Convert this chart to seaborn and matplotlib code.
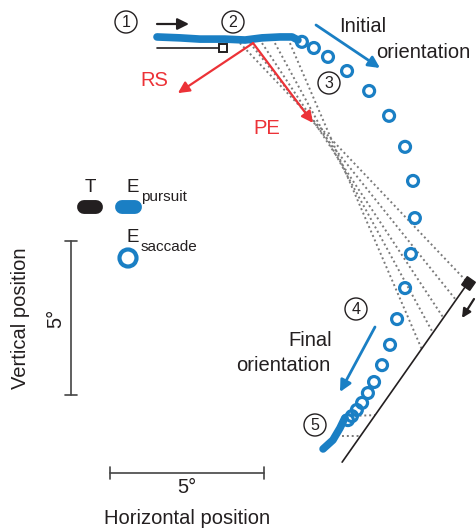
import seaborn as sns
import matplotlib
matplotlib.use('Agg')  # no display
import matplotlib.pyplot as plt
from matplotlib.patches import Circle

# positions in degrees, origin = start of the target trajectory
pursuit_x = [0.00, 0.75, 1.40, 2.21, 2.87, 3.42, 4.01, 4.40, 4.59]
pursuit_y = [0.36, 0.33, 0.29, 0.29, 0.26, 0.33, 0.36, 0.36, 0.26]
saccade_x = [4.72, 5.11, 5.57, 6.19, 6.91, 7.56, 8.08, 8.34, 8.40, 8.27,
             8.08, 7.82, 7.59, 7.33, 7.07, 6.87, 6.68, 6.51, 6.35, 6.22]
saccade_y = [0.20, 0.00, -0.29, -0.75, -1.40, -2.21, -3.22, -4.33, -5.54, -6.71,
             -7.82, -8.83, -9.67, -10.33, -10.88, -11.24, -11.56, -11.79, -11.99, -12.12]
final_pursuit_x = [5.41, 5.73, 5.96, 6.12]
final_pursuit_y = [-13.06, -12.77, -12.38, -12.05]
target_start_x = [0.00, 2.15]
target_start_y = [0.00, 0.00]
target_end_x = [10.13, 6.03]
target_end_y = [-7.65, -13.49]
# dotted links between eye and target
link_x0 = [2.70, 3.03, 3.42, 3.84, 4.33, 6.12, 6.03]
link_y0 = [0.16, 0.16, 0.16, 0.16, 0.16, -11.99, -12.64]
link_x1 = [10.13, 9.74, 9.33, 8.99, 8.62, 7.10, 6.65]
link_y1 = [-7.65, -8.21, -8.79, -9.28, -9.80, -11.96, -12.64]
# red vectors (retinal slip, position error)
vec_origin = (3.13, 0.16)
rs_tip = (0.68, -1.47)
pe_tip = (5.08, -2.44)
scale_deg = 5

BLUE = '#1a7fc4'
RED = '#ec3237'
DARK = '#231f20'
GRAY = '#7a7a7a'

# pixel layout helpers (reference image is 476x530 px)
X0, Y0, PPD = 157, 48, 30.7


def px(x, y):
    return ((x - X0) / PPD, (Y0 - y) / PPD)


sns.set_style('white')
plt.rcParams['font.family'] = ['Liberation Sans', 'DejaVu Sans']

fig = plt.figure(figsize=(4.76, 5.30), dpi=100)
ax = fig.add_axes([0, 0, 1, 1])
ax.set_xlim(-X0 / PPD, (476 - X0) / PPD)
ax.set_ylim((Y0 - 530) / PPD, Y0 / PPD)
ax.axis('off')

# dotted links
for a, b, c, d in zip(link_x0, link_y0, link_x1, link_y1):
    ax.plot([a, c], [b, d], color=GRAY, lw=1.4, ls=(0, (1, 1.5)), zorder=1)

# target
ax.plot(target_start_x, target_start_y, color=DARK, lw=1.2, zorder=2)
ax.plot(target_start_x[-1], target_start_y[-1], marker='s', ms=5.5, mfc='white',
        mec=DARK, mew=1.4, zorder=3)
ax.plot(target_end_x, target_end_y, color=DARK, lw=1.2, zorder=2)
ax.plot(target_end_x[0], target_end_y[0], marker=(4, 0, 10), ms=10, color=DARK, zorder=3)

# eye: pursuit and saccades
sns.lineplot(x=pursuit_x, y=pursuit_y, sort=False, estimator=None, color=BLUE,
             lw=5.5, solid_capstyle='round', ax=ax, zorder=4)
sns.lineplot(x=final_pursuit_x, y=final_pursuit_y, sort=False, estimator=None,
             color=BLUE, lw=5.5, solid_capstyle='round', ax=ax, zorder=4)
sns.scatterplot(x=saccade_x, y=saccade_y, s=62, color=BLUE, facecolors='none',
                edgecolor=BLUE, linewidth=2.3, ax=ax, zorder=5)


def arrow(p0, p1, color, lw=1.6, ms=17):
    ax.annotate('', xy=p1, xytext=p0,
                arrowprops=dict(arrowstyle='-|>', color=color, lw=lw,
                                mutation_scale=ms, shrinkA=0, shrinkB=0), zorder=6)


arrow(vec_origin, rs_tip, RED)
arrow(vec_origin, pe_tip, RED)
arrow(px(316, 25), px(380, 68), BLUE, lw=2)
arrow(px(375, 327), px(340, 392), BLUE, lw=2)
arrow(px(157, 24), px(189, 24), DARK)
arrow(px(474, 299), px(462, 318), DARK, ms=13)

FS = 14.5
ax.text(*px(154, 80), 'RS', color=RED, fontsize=FS, ha='center', va='center')
ax.text(*px(267, 128), 'PE', color=RED, fontsize=FS, ha='center', va='center')
ax.text(*px(363, 26), 'Initial', color=DARK, fontsize=FS, ha='center', va='center')
ax.text(*px(423, 52), 'orientation', color=DARK, fontsize=FS, ha='center', va='center')
ax.text(*px(310, 340), 'Final', color=DARK, fontsize=FS, ha='center', va='center')
ax.text(*px(283, 365), 'orientation', color=DARK, fontsize=FS, ha='center', va='center')

# numbered steps
for label, cx, cy in [('1', 126, 22), ('2', 233, 22), ('3', 329, 83),
                      ('4', 356, 309), ('5', 315, 425)]:
    ax.add_patch(Circle(px(cx, cy), 11 / PPD, fill=False, ec=DARK, lw=1, zorder=6))
    ax.text(*px(cx, cy + 0.5), label, color=DARK, fontsize=11.5, ha='center', va='center')

# legend
ax.plot(*zip(px(84, 207), px(96, 207)), color=DARK, lw=10, solid_capstyle='round')
ax.plot(*zip(px(122, 207), px(135, 207)), color=BLUE, lw=10, solid_capstyle='round')
ax.scatter(*px(128, 258), s=150, facecolors='none', edgecolors=BLUE, linewidths=3)
ax.text(*px(90, 188), 'T', color=DARK, fontsize=13.5, ha='center', va='center')
ax.text(*px(133, 188), 'E', color=DARK, fontsize=13.5, ha='center', va='center')
ax.text(*px(141, 197), 'pursuit', color=DARK, fontsize=11, ha='left', va='center')
ax.text(*px(133, 238), 'E', color=DARK, fontsize=13.5, ha='center', va='center')
ax.text(*px(141, 247), 'saccade', color=DARK, fontsize=11, ha='left', va='center')

# scale bars
bx, by0 = px(71, 241)
ax.plot([bx, bx], [by0, by0 - scale_deg], color='#444444', lw=1.2)
for yy in (by0, by0 - scale_deg):
    ax.plot([bx - 6 / PPD, bx + 6 / PPD], [yy, yy], color='#444444', lw=1.2)
hx0, hy = px(110, 473)
ax.plot([hx0, hx0 + scale_deg], [hy, hy], color='#444444', lw=1.2)
for xx in (hx0, hx0 + scale_deg):
    ax.plot([xx, xx], [hy - 6 / PPD, hy + 6 / PPD], color='#444444', lw=1.2)

ax.text(*px(56, 318), '5\u00b0', color=DARK, fontsize=FS, rotation=90, ha='center', va='center')
ax.text(*px(187, 487), '5\u00b0', color=DARK, fontsize=FS, ha='center', va='center')
ax.text(*px(21, 318), 'Vertical position', color=DARK, fontsize=FS, rotation=90,
        ha='center', va='center')
ax.text(*px(187, 518), 'Horizontal position', color=DARK, fontsize=FS, ha='center', va='center')

fig.savefig('out.png', dpi=100)
